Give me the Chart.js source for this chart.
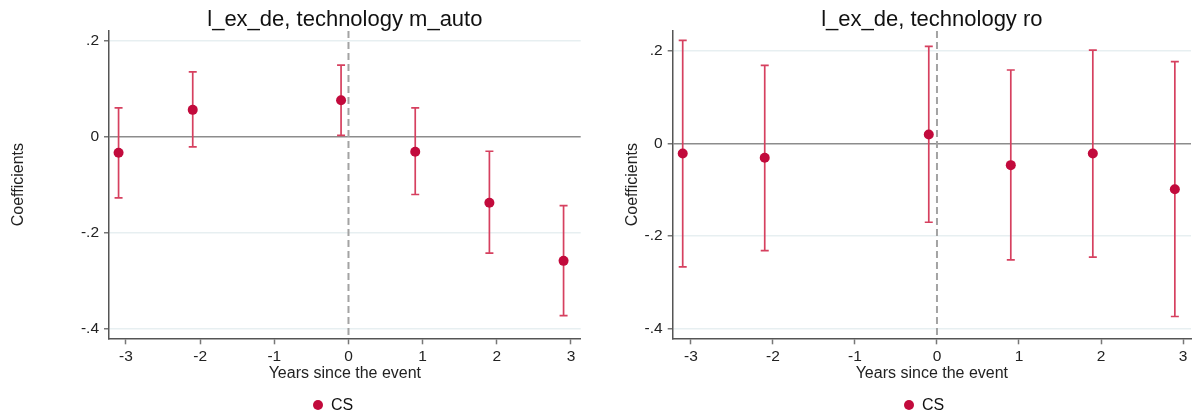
<!DOCTYPE html>
<html>
<head>
<meta charset="utf-8">
<script src="https://cdn.jsdelivr.net/npm/chart.js@4.4.0/dist/chart.umd.min.js"></script>
<style>
  html, body { margin: 0; padding: 0; background: #fff; }
  #wrap { display: flex; width: 1196px; height: 418px; }
  .panel { position: relative; width: 598px; height: 418px; }
</style>
</head>
<body>
<div id="wrap">
  <div class="panel"><canvas id="c1" width="598" height="418"></canvas></div>
  <div class="panel"><canvas id="c2" width="598" height="418"></canvas></div>
</div>
<script>
// event-time grid and the (slightly shifted) positions of the estimates
const years = [-3, -2, -1, 0, 1, 2, 3];
const eventTimes = [-3.1, -2.1, -0.1, 0.9, 1.9, 2.9];
const yTicks = [-0.4, -0.2, 0, 0.2];

// technology m_auto
const autoCoef = [-0.033, 0.056, 0.076, -0.031, -0.137, -0.258];
const autoLow  = [-0.127, -0.021, 0.003, -0.120, -0.242, -0.372];
const autoHigh = [0.060, 0.135, 0.149, 0.060, -0.030, -0.143];

// technology ro
const roCoef = [-0.022, -0.031, 0.019, -0.047, -0.022, -0.099];
const roLow  = [-0.266, -0.231, -0.170, -0.251, -0.245, -0.373];
const roHigh = [0.222, 0.168, 0.209, 0.158, 0.201, 0.176];

const seriesName = 'CS';
const dotColor = '#c20a3c';
const barColor = '#d6405f';

Chart.defaults.font.family = "'Liberation Sans', Arial, sans-serif";
Chart.defaults.color = '#222';

function fmtTick(v) {
  if (Math.abs(v) < 1e-9) return '0';
  return (v < 0 ? '-' : '') + String(Math.abs(v)).replace(/^0/, '');
}

// error bars + dashed event line, drawn through the chart's scales
const ciPlugin = {
  id: 'ciBars',
  beforeDatasetsDraw(chart, args, opts) {
    const { ctx, chartArea, scales: { x, y } } = chart;
    ctx.save();
    const x0 = x.getPixelForValue(0);
    ctx.strokeStyle = '#a3a3a3';
    ctx.lineWidth = 2;
    ctx.setLineDash([7, 4]);
    ctx.beginPath();
    ctx.moveTo(x0, chartArea.top);
    ctx.lineTo(x0, chartArea.bottom);
    ctx.stroke();
    ctx.setLineDash([]);
    ctx.strokeStyle = barColor;
    ctx.lineWidth = 1.7;
    opts.low.forEach((lo, i) => {
      const px = x.getPixelForValue(opts.times[i]);
      const yl = y.getPixelForValue(lo);
      const yh = y.getPixelForValue(opts.high[i]);
      ctx.beginPath();
      ctx.moveTo(px, yl); ctx.lineTo(px, yh);
      ctx.moveTo(px - 4, yl); ctx.lineTo(px + 4, yl);
      ctx.moveTo(px - 4, yh); ctx.lineTo(px + 4, yh);
      ctx.stroke();
    });
    ctx.restore();
  }
};

// title centred over the plot, legend at the bottom
const textPlugin = {
  id: 'panelText',
  afterDraw(chart, args, opts) {
    const { ctx, chartArea } = chart;
    ctx.save();
    ctx.fillStyle = '#111';
    ctx.font = "22px 'Liberation Sans', Arial, sans-serif";
    ctx.textAlign = 'center';
    ctx.textBaseline = 'alphabetic';
    ctx.fillText(opts.title, (chartArea.left + chartArea.right) / 2, 26);
    ctx.fillStyle = dotColor;
    ctx.beginPath();
    ctx.arc(opts.legendX, 405, 5, 0, Math.PI * 2);
    ctx.fill();
    ctx.fillStyle = '#111';
    ctx.font = "16px 'Liberation Sans', Arial, sans-serif";
    ctx.textAlign = 'left';
    ctx.textBaseline = 'middle';
    ctx.fillText(seriesName, opts.legendX + 13, 406);
    ctx.restore();
  }
};

function makePanel(id, p) {
  new Chart(document.getElementById(id), {
    type: 'scatter',
    data: {
      datasets: [{
        label: seriesName,
        data: eventTimes.map((t, i) => ({ x: t, y: p.coef[i] })),
        backgroundColor: dotColor,
        borderWidth: 0,
        pointRadius: 5,
        pointHoverRadius: 5
      }]
    },
    options: {
      responsive: false,
      animation: false,
      layout: { padding: { left: p.padLeft, right: p.padRight, top: 31, bottom: 34 } },
      plugins: {
        legend: { display: false },
        title: { display: false },
        tooltip: { enabled: false },
        ciBars: { times: eventTimes, low: p.low, high: p.high },
        panelText: { title: p.title, legendX: p.legendX }
      },
      scales: {
        x: {
          type: 'linear',
          min: p.xMin, max: p.xMax,
          afterBuildTicks: s => { s.ticks = years.map(v => ({ value: v })); },
          afterFit: s => { s.height = 45.7; },
          ticks: { font: { size: 15.5 }, padding: 3, maxRotation: 0, color: '#222' },
          grid: { drawOnChartArea: false, drawTicks: true, tickLength: 6, tickColor: '#777', tickWidth: 1.5 },
          border: { display: true, color: '#555', width: 1.5 },
          title: { display: true, text: 'Years since the event', font: { size: 16 }, color: '#222', padding: { top: 0, bottom: 1 } }
        },
        y: {
          min: p.yMin, max: p.yMax,
          afterBuildTicks: s => { s.ticks = yTicks.map(v => ({ value: v })); },
          afterFit: s => { s.width = p.yWidth; },
          ticks: { font: { size: 15.5 }, padding: 5, color: '#222', callback: v => fmtTick(v) },
          grid: {
            drawOnChartArea: true, drawTicks: true, tickLength: 5, tickColor: '#777', tickWidth: 1.5,
            color: c => (c.tick && Math.abs(c.tick.value) < 1e-9) ? '#8c8c8c' : '#e7eff1',
            lineWidth: 1.5
          },
          border: { display: true, color: '#555', width: 1.5 },
          title: { display: true, text: 'Coefficients', font: { size: 16 }, color: '#222', padding: { top: 9, bottom: 0 } }
        }
      }
    },
    plugins: [ciPlugin, textPlugin]
  });
}

makePanel('c1', {
  title: 'l_ex_de, technology m_auto',
  coef: autoCoef, low: autoLow, high: autoHigh,
  xMin: -3.229, xMax: 3.131, yMin: -0.419, yMax: 0.22,
  padLeft: 0, padRight: 17.3, yWidth: 109,
  legendX: 318
});

makePanel('c2', {
  title: 'l_ex_de, technology ro',
  coef: roCoef, low: roLow, high: roHigh,
  xMin: -3.222, xMax: 3.097, yMin: -0.42, yMax: 0.242,
  padLeft: 16, padRight: 3, yWidth: 58.7,
  legendX: 311
});
</script>
</body>
</html>
